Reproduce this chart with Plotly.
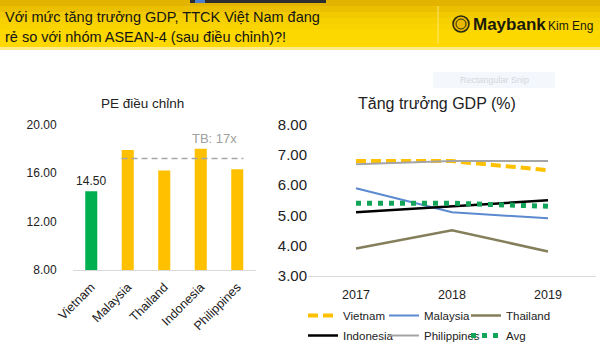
import plotly.graph_objects as go

# ---------------- data ----------------
pe_countries = ["Vietnam", "Malaysia", "Thailand", "Indonesia", "Philippines"]
pe_values = [14.5, 17.9, 16.2, 18.0, 16.3]
pe_avg = 17.2
pe_avg_label = "TB: 17x"

years = ["2017", "2018", "2019"]
gdp_vietnam = [6.8, 6.8, 6.5]
gdp_malaysia = [5.9, 5.1, 4.9]
gdp_thailand = [3.9, 4.5, 3.8]
gdp_indonesia = [5.1, 5.3, 5.5]
gdp_philippines = [6.7, 6.8, 6.8]
gdp_avg = [5.4, 5.4, 5.3]

header_line1 = "Với mức tăng trưởng GDP, TTCK Việt Nam đang"
header_line2 = "rẻ so với nhóm ASEAN-4 (sau điều chỉnh)?!"

W, H = 600, 358
FONT = "Liberation Sans"


def px(x):
    return x / W


def py(y):
    return 1 - y / H


fig = go.Figure()

# ---------------- left: PE bars ----------------
bar_colors = ["#00B050"] + ["#FFC000"] * (len(pe_countries) - 1)
bar_text = ["%.2f" % pe_values[0]] + [""] * (len(pe_countries) - 1)
fig.add_trace(go.Bar(
    x=pe_countries, y=pe_values, marker=dict(color=bar_colors, line=dict(width=0)),
    width=0.33, text=bar_text, textposition="outside", cliponaxis=False,
    constraintext="none", textangle=0,
    textfont=dict(size=12, color="#222222", family=FONT),
    xaxis="x", yaxis="y", showlegend=False, hoverinfo="x+y",
))

# ---------------- right: GDP lines ----------------
series = [
    ("Vietnam", gdp_vietnam, dict(color="#FFC000", width=4, dash="10px,5px")),
    ("Malaysia", gdp_malaysia, dict(color="#5B8AD0", width=2)),
    ("Thailand", gdp_thailand, dict(color="#847F5A", width=2.5)),
    ("Indonesia", gdp_indonesia, dict(color="#000000", width=2.5)),
    ("Philippines", gdp_philippines, dict(color="#A5A5A5", width=2)),
    ("Avg", gdp_avg, dict(color="#12A55A", width=5, dash="5px,6px")),
]
legend_names = ["legend", "legend2", "legend3", "legend4", "legend5", "legend6"]
legend_pos = [(303, 301), (384, 301), (466, 301), (303, 321), (384, 321), (466, 321)]
for (name, vals, line), lg in zip(series, legend_names):
    fig.add_trace(go.Scatter(
        x=years, y=vals, name=name, mode="lines", line=line,
        xaxis="x2", yaxis="y2", legend=lg,
    ))

axis_common = dict(showgrid=False, zeroline=False, fixedrange=True, automargin=False)

fig.update_layout(
    width=W, height=H,
    margin=dict(l=0, r=0, t=0, b=0, autoexpand=False),
    paper_bgcolor="white", plot_bgcolor="rgba(0,0,0,0)",
    font=dict(family=FONT, color="#222222"),
    xaxis=dict(domain=[px(73), px(255.5)], range=[-0.5, 4.5], anchor="y",
               showline=True, linecolor="#D9D9D9", linewidth=1,
               tickangle=-45, ticks="outside", ticklen=4, tickcolor="rgba(0,0,0,0)",
               tickfont=dict(size=12.5, color="#222222"), **axis_common),
    yaxis=dict(domain=[py(270), py(124.5)], range=[8, 20], anchor="x",
               tickvals=[8, 12, 16, 20], tickformat=".2f",
               ticks="outside", ticklen=13, tickcolor="rgba(0,0,0,0)",
               showline=False, tickfont=dict(size=12, color="#222222"), **axis_common),
    xaxis2=dict(domain=[px(308), px(596)], range=[-0.5, 2.5], anchor="y2",
                showline=True, linecolor="#D9D9D9", linewidth=1,
                ticks="outside", ticklen=7, tickcolor="rgba(0,0,0,0)",
                tickfont=dict(size=12.5, color="#222222"), **axis_common),
    yaxis2=dict(domain=[py(275.5), py(125)], range=[3, 8], anchor="x2",
                tickvals=[3, 4, 5, 6, 7, 8], tickformat=".2f",
                showline=False, tickfont=dict(size=15, color="#222222"), **axis_common),
    showlegend=True,
)

for lg, (lx, ly) in zip(legend_names, legend_pos):
    fig.update_layout({lg: dict(
        orientation="v", x=px(lx), y=py(ly), xanchor="left", yanchor="top",
        itemwidth=30, borderwidth=0,
        font=dict(size=11.5, color="#222222", family=FONT),
        bgcolor="rgba(0,0,0,0)",
    )})

shapes = []
# header band (approximate gradient with stacked bands)
band_cols = ["#E2B400", "#EBC000", "#F2CA00", "#F7D000", "#FAD400", "#FCD700", "#FDD800", "#FFD800"]
n = len(band_cols)
for i, c in enumerate(band_cols):
    shapes.append(dict(type="rect", xref="paper", yref="paper", x0=0, x1=1,
                       y0=py(48 * (i + 1) / n), y1=py(48 * i / n),
                       fillcolor=c, line=dict(width=0), layer="below"))
shapes.append(dict(type="rect", xref="paper", yref="paper", x0=0, x1=1, y0=py(50), y1=py(47),
                   fillcolor="#FFEB8A", line=dict(width=0), layer="below"))
# top dark toolbar strip (screen snip)
shapes.append(dict(type="rect", xref="paper", yref="paper", x0=px(190), x1=px(326), y0=py(3), y1=1,
                   fillcolor="#2E2E2E", line=dict(width=0)))
shapes.append(dict(type="rect", xref="paper", yref="paper", x0=px(195), x1=px(205), y0=py(3), y1=1,
                   fillcolor="#4A7FD0", line=dict(width=0)))
# divider in header
shapes.append(dict(type="line", xref="paper", yref="paper", x0=px(438), x1=px(438), y0=py(44), y1=py(6),
                   line=dict(color="rgba(255,240,170,0.7)", width=1)))
# logo emblem
shapes.append(dict(type="circle", xref="paper", yref="paper", x0=px(453), x1=px(469), y0=py(32), y1=py(16),
                   fillcolor="#E8B800", line=dict(color="#2A2A10", width=1.6)))
shapes.append(dict(type="circle", xref="paper", yref="paper", x0=px(456), x1=px(466), y0=py(29), y1=py(19),
                   fillcolor="rgba(0,0,0,0)", line=dict(color="#2A2A10", width=1)))
# faint snip tooltip box
shapes.append(dict(type="rect", xref="paper", yref="paper", x0=px(433), x1=px(555), y0=py(88), y1=py(72),
                   fillcolor="#F4F7FB", line=dict(width=0), layer="below"))
# average PE dashed line
shapes.append(dict(type="line", xref="x", yref="y", x0=1 - 0.17, x1=4 + 0.17, y0=pe_avg, y1=pe_avg,
                   line=dict(color="#A6A6A6", width=1.6, dash="6px,4px")))
fig.update_layout(shapes=shapes)

ann = [
    dict(text=header_line1, x=px(3), y=py(17), xanchor="left", yanchor="middle",
         font=dict(size=14.5, color="#151515", family=FONT)),
    dict(text=header_line2, x=px(3), y=py(37), xanchor="left", yanchor="middle",
         font=dict(size=14.5, color="#151515", family=FONT)),
    dict(text="<b>Maybank</b>", x=px(471), y=py(25), xanchor="left", yanchor="middle",
         font=dict(size=17, color="#1A1A0A", family=FONT)),
    dict(text="Kim Eng", x=px(546), y=py(26), xanchor="left", yanchor="middle",
         font=dict(size=12, color="#1A1A0A", family=FONT)),
    dict(text="Rectangular Snip", x=px(458), y=py(80), xanchor="left", yanchor="middle",
         font=dict(size=9, color="#D4D8DE", family=FONT)),
    dict(text="PE điều chỉnh", x=px(142), y=py(103), xanchor="center", yanchor="middle",
         font=dict(size=13.5, color="#222222", family=FONT)),
    dict(text="Tăng trưởng GDP (%)", x=px(437), y=py(103), xanchor="center", yanchor="middle",
         font=dict(size=16, color="#222222", family=FONT)),
    dict(text=pe_avg_label, x=px(214), y=py(138), xanchor="center", yanchor="middle",
         font=dict(size=13, color="#A0A0A0", family=FONT)),
]
for a in ann:
    a.update(xref="paper", yref="paper", showarrow=False)
fig.update_layout(annotations=ann)

fig.write_html(
    "out.html",
    config={"displayModeBar": False, "staticPlot": True},
    post_script="document.body.style.margin='0';document.body.style.overflow='hidden';",
)
